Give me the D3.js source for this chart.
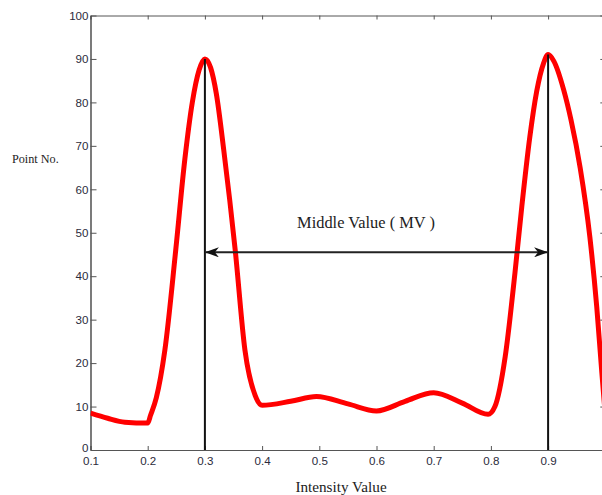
<!DOCTYPE html>
<meta charset="utf-8">
<html>
<style>
  body { margin: 0; background: #fff; }
  svg { display: block; }
</style>
<body>
<div id="chart"></div>
<script src="https://d3js.org/d3.v7.min.js"></script>
<script>
// intensity histogram
var intensity = [0.10, 0.13, 0.16, 0.20, 0.205, 0.215, 0.23, 0.249, 0.265, 0.278, 0.29, 0.30,
                 0.31, 0.32, 0.333, 0.353, 0.370, 0.388, 0.40, 0.45, 0.495, 0.55, 0.60, 0.65,
                 0.70, 0.75, 0.795, 0.807, 0.825, 0.842, 0.854, 0.868, 0.88, 0.892, 0.90,
                 0.91, 0.927, 0.94, 0.956, 0.973, 0.985, 0.994, 1.0];
var pointNo   = [8.5, 7.3, 6.4, 6.2, 8, 12, 23, 46, 67, 80, 87.5, 90,
                 88, 82, 69, 46, 23, 12.5, 10.3, 11.2, 12.3, 10.6, 9.0, 11.2,
                 13.2, 10.8, 8.2, 10, 21.5, 40.7, 56, 72, 82.5, 89, 91,
                 89.5, 83, 76, 65, 49, 33, 17.7, 8];
var xTicks = [0.1, 0.2, 0.3, 0.4, 0.5, 0.6, 0.7, 0.8, 0.9];
var yTicks = [0, 10, 20, 30, 40, 50, 60, 70, 80, 90, 100];
var peaks = [0.3, 0.9];
var peakValues = [90, 91];
var mvLevel = 45.5;
var mvLabel = "Middle Value ( MV )";

var W = 602, H = 495;
// plot box (note: "top" is taken by window.top, so use pl/pr/pt/pb)
var pl = 90.5, pr = 605.3, pt = 15.5, pb = 450;

var svg = d3.select("#chart").append("svg").attr("width", W).attr("height", H);

var x = d3.scaleLinear().domain([0.1, 1.0]).range([pl, pr]);
var y = d3.scaleLinear().domain([0, 100]).range([pb, pt]);

var defs = svg.append("defs");
defs.append("clipPath").attr("id", "plotclip")
    .append("rect").attr("x", pl).attr("y", pt)
    .attr("width", pr - pl).attr("height", pb - pt);
defs.append("marker").attr("id", "arrow")
    .attr("viewBox", "0 0 14 10").attr("refX", 13).attr("refY", 5)
    .attr("markerWidth", 14).attr("markerHeight", 10)
    .attr("markerUnits", "userSpaceOnUse")
    .attr("orient", "auto-start-reverse")
  .append("path").attr("d", "M0,0 L14,5 L0,10 L4,5 Z").attr("fill", "#111");

var tickColor = "#2b2b3b";
var font = "'Liberation Sans', Arial, sans-serif";
var serif = "'Liberation Serif', 'Times New Roman', serif";

// frame with inward ticks
function styleAxis(g) {
  g.select(".domain").attr("stroke", "#555");
  g.selectAll(".tick line").attr("stroke", "#555");
  g.selectAll(".tick text").attr("fill", tickColor)
    .style("font-family", font).style("font-size", "11.6px");
}
svg.append("g").attr("transform", "translate(0," + pb + ")")
  .call(d3.axisBottom(x).tickValues(xTicks).tickSizeInner(-4).tickSizeOuter(0)
        .tickPadding(7).tickFormat(d3.format(".1f")))
  .call(styleAxis);
svg.append("g").attr("transform", "translate(0," + pt + ")")
  .call(d3.axisTop(x).tickValues(xTicks).tickSizeInner(-4).tickSizeOuter(0).tickFormat(""))
  .call(styleAxis);
svg.append("g").attr("transform", "translate(" + pl + ",0)")
  .call(d3.axisLeft(y).tickValues(yTicks).tickSizeInner(-6).tickSizeOuter(0).tickPadding(2))
  .call(styleAxis)
  .call(function (g) {
    g.select(".domain").attr("stroke", "#333").attr("stroke-width", 1.3);
    // lift the "0" a touch so it clears "0.1"
    g.selectAll(".tick text").filter(function (d) { return d === 0; }).attr("dy", "0.1em");
  });
svg.append("g").attr("transform", "translate(" + pr + ",0)")
  .call(d3.axisRight(y).tickValues(yTicks).tickSizeInner(-5).tickSizeOuter(0).tickFormat(""))
  .call(styleAxis);

// curve
var pts = intensity.map(function (d, i) { return [d, pointNo[i]]; });
var line = d3.line()
  .x(function (d) { return x(d[0]); })
  .y(function (d) { return y(d[1]); })
  .curve(d3.curveMonotoneX);
svg.append("path").datum(pts)
  .attr("clip-path", "url(#plotclip)")
  .attr("d", line)
  .attr("fill", "none").attr("stroke", "#ff0000")
  .attr("stroke-width", 5).attr("stroke-linejoin", "round");

// peak markers
svg.selectAll(".peak").data(peaks).enter().append("line")
  .attr("x1", function (d) { return x(d); }).attr("x2", function (d) { return x(d); })
  .attr("y1", function (d, i) { return y(peakValues[i]); }).attr("y2", pb)
  .attr("stroke", "#111").attr("stroke-width", 2);

// MV arrow
svg.append("line")
  .attr("x1", x(peaks[0]) + 1).attr("x2", x(peaks[1]) - 1)
  .attr("y1", y(mvLevel)).attr("y2", y(mvLevel))
  .attr("stroke", "#222").attr("stroke-width", 2)
  .attr("marker-start", "url(#arrow)").attr("marker-end", "url(#arrow)");

svg.append("text")
  .attr("x", 366).attr("y", y(mvLevel) - 24)
  .attr("text-anchor", "middle")
  .style("font-family", serif)
  .style("font-size", "16.4px").attr("fill", "#222")
  .text(mvLabel);

// axis titles
svg.append("text")
  .attr("x", 12).attr("y", 163)
  .style("font-family", serif)
  .style("font-size", "12.2px").attr("fill", "#222")
  .text("Point No.");
svg.append("text")
  .attr("x", 341).attr("y", 492).attr("text-anchor", "middle")
  .style("font-family", serif)
  .style("font-size", "15.2px").attr("fill", "#222")
  .text("Intensity Value");
</script>
</body>
</html>
